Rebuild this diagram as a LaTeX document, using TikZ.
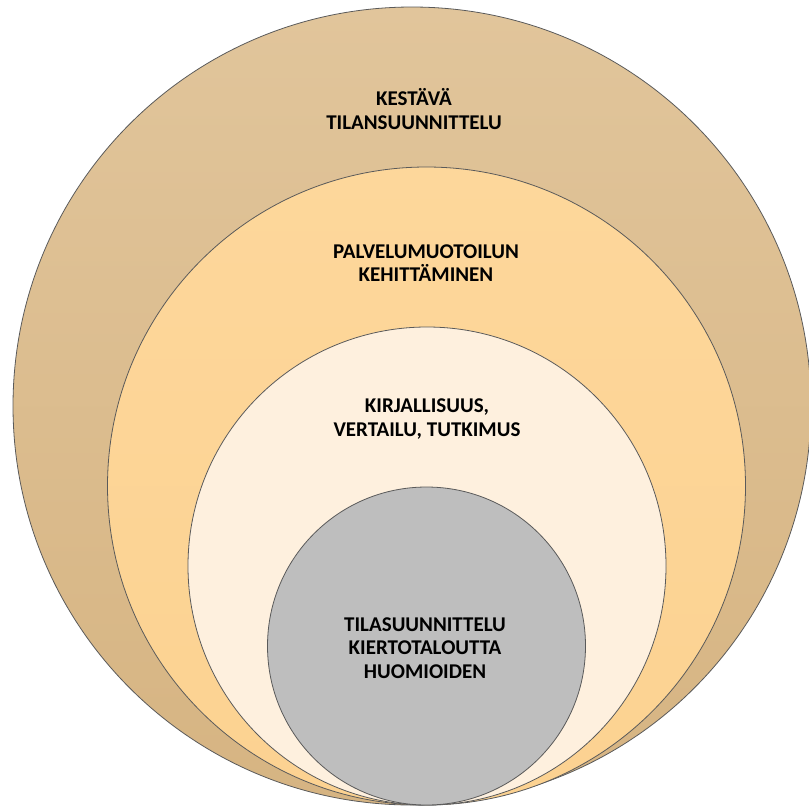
\documentclass[tikz,border=0pt]{standalone}
\usepackage{fontspec}
\setmainfont{Carlito}
\definecolor{ringA}{RGB}{225,197,155}
\definecolor{ringAb}{RGB}{214,180,130}
\definecolor{ringB}{RGB}{253,215,155}
\definecolor{ringBb}{RGB}{252,210,145}
\definecolor{ringC}{RGB}{254,240,222}
\definecolor{coreG}{RGB}{190,190,190}
\definecolor{edgeG}{RGB}{90,90,90}
\tikzset{
  ring/.style={circle, draw=edgeG, line width=0.8pt, inner sep=0pt},
  lbl/.style={font=\fontsize{21}{23.5}\selectfont\bfseries, align=center, text=black, inner sep=0pt}
}
\begin{document}
\begin{tikzpicture}[x=1pt,y=-1pt]
\useasboundingbox (0,0) rectangle (809,807);
\node[ring, minimum size=798pt, top color=ringA, bottom color=ringAb] (outer) at (412,406) {};
\node[ring, minimum size=638pt, top color=ringB, bottom color=ringBb] (second) at (426.5,486) {};
\node[ring, minimum size=478pt, fill=ringC] (third) at (427,566) {};
\node[ring, minimum size=318pt, fill=coreG] (core) at (426.5,646) {};
\node[lbl] (t1) at (414,109) {KESTÄVÄ\\TILANSUUNNITTELU};
\node[lbl] (t2) at (426,263) {PALVELUMUOTOILUN\\KEHITTÄMINEN};
\node[lbl] (t3) at (427,419) {KIRJALLISUUS,\\VERTAILU, TUTKIMUS};
\node[lbl] (t4) at (425,648) {TILASUUNNITTELU\\KIERTOTALOUTTA\\HUOMIOIDEN};
\end{tikzpicture}
\end{document}
